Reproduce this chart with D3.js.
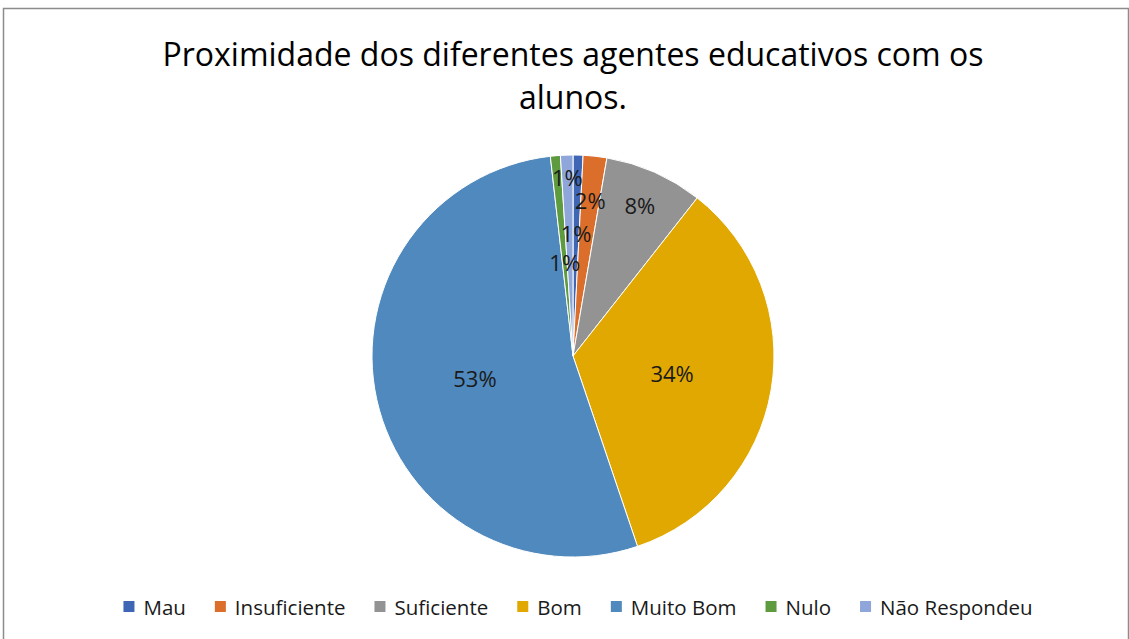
<!DOCTYPE html>
<html>
<head>
<meta charset="utf-8">
<script src="https://cdn.jsdelivr.net/npm/d3@7"></script>
<style>
  html, body { margin: 0; padding: 0; background: #fff; }
  svg text { font-family: "Open Sans", "Noto Sans", sans-serif; }
</style>
</head>
<body>
<div id="chart"></div>
<script>
// Dados (percentagens aproximadas)
const categories = ["Mau", "Insuficiente", "Suficiente", "Bom", "Muito Bom", "Nulo", "Não Respondeu"];
const values = [0.8, 1.9, 7.9, 34.2, 53.4, 0.8, 1.0];
const colors = ["#3f66b5", "#db6e2a", "#939393", "#e0a800", "#4f89bd", "#5e9b3e", "#8fa6db"];
const titleLines = ["Proximidade dos diferentes agentes educativos com os", "alunos."];

const W = 1129, H = 639;
const cx = 573, cy = 356, radius = 201;

const svg = d3.select("#chart").append("svg")
  .attr("width", W)
  .attr("height", H);

// Moldura do gráfico
svg.append("path")
  .attr("d", `M3.5,${H} V8.5 H1128.5 V${H}`)
  .attr("fill", "none")
  .attr("stroke", "#8c8c8c")
  .attr("stroke-width", 1.5);

// Título
svg.append("text")
  .attr("x", cx)
  .attr("y", 66)
  .attr("text-anchor", "middle")
  .style("font-size", "32px")
  .style("fill", "#000")
  .selectAll("tspan")
  .data(titleLines)
  .enter()
  .append("tspan")
  .attr("x", cx)
  .attr("dy", (d, i) => i === 0 ? 0 : 43)
  .text(d => d);

// Tarte
const total = d3.sum(values);
const pie = d3.pie().sort(null).value(d => d.value);
const arcs = pie(categories.map((c, i) => ({ name: c, value: values[i], color: colors[i] })));

const arc = d3.arc().innerRadius(0).outerRadius(radius);

const g = svg.append("g").attr("transform", `translate(${cx},${cy})`);

g.selectAll("path.slice")
  .data(arcs)
  .enter()
  .append("path")
  .attr("class", "slice")
  .attr("d", arc)
  .attr("fill", d => d.data.color)
  .attr("stroke", "#fff")
  .attr("stroke-width", 1);

// Posição radial dos rótulos (fração do raio), tipo "melhor ajuste"
const labelR = [0.61, 0.78, 0.82, 0.5, 0.5, 0.47, 0.89];

g.selectAll("text.lbl")
  .data(arcs)
  .enter()
  .append("text")
  .attr("class", "lbl")
  .attr("transform", (d, i) => {
    const r = radius * labelR[i];
    const c = d3.arc().innerRadius(r).outerRadius(r).centroid(d);
    return `translate(${c[0]},${c[1]})`;
  })
  .attr("text-anchor", "middle")
  .attr("dominant-baseline", "central")
  .style("font-size", "22px")
  .style("fill", "#1a1a1a")
  .text(d => Math.round(d.data.value / total * 100) + "%");

// Legenda
const legend = svg.append("g").attr("transform", "translate(0,607)");
const items = legend.selectAll("g.item")
  .data(categories)
  .enter()
  .append("g")
  .attr("class", "item");

items.append("rect")
  .attr("x", 0)
  .attr("y", -6)
  .attr("width", 11)
  .attr("height", 11)
  .attr("fill", (d, i) => colors[i]);

items.append("text")
  .attr("x", 20)
  .attr("y", 0)
  .attr("dominant-baseline", "central")
  .style("font-size", "20.5px")
  .style("fill", "#1a1a1a")
  .text(d => d);

const gap = 29;
const widths = [];
items.each(function() {
  widths.push(20 + d3.select(this).select("text").node().getComputedTextLength());
});
const totalW = d3.sum(widths) + gap * (widths.length - 1);
let xPos = 578 - totalW / 2;
items.attr("transform", (d, i) => {
  const t = `translate(${xPos},0)`;
  xPos += widths[i] + gap;
  return t;
});
</script>
</body>
</html>
